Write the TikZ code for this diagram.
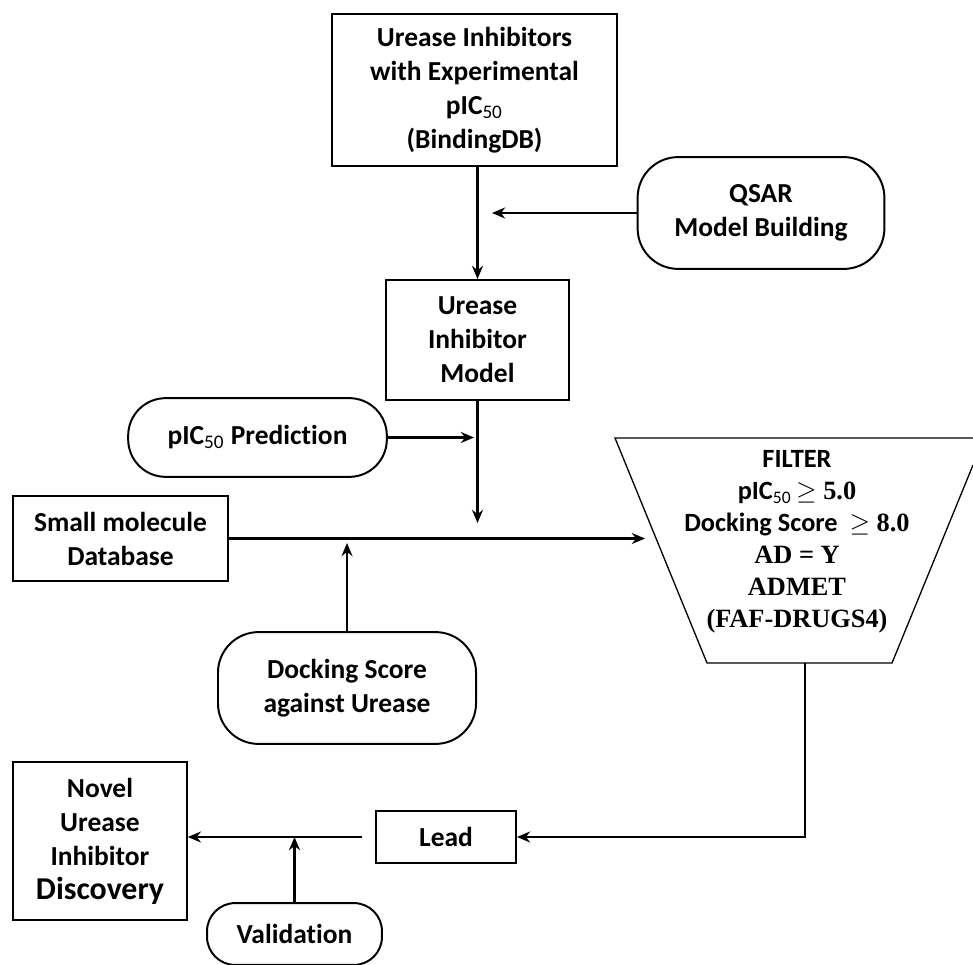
\documentclass[tikz,border=0pt]{standalone}
\usepackage{fontspec}
\setmainfont{Carlito}[Ligatures=NoCommon]
\newfontfamily\timesfont{Liberation Serif}
\usetikzlibrary{arrows.meta}

\begin{document}
\begin{tikzpicture}[>={Stealth[length=6pt,width=5pt]}, x=0.016cm, y=-0.016cm,
        box/.style={draw, line width=0.9pt, align=center, inner sep=0pt,
            font=\bfseries\fontsize{12.5}{15.5}\selectfont},
        term/.style={box, rounded corners=0.45cm},
        link/.style={->, line width=1.1pt}]
    \useasboundingbox (0,0) rectangle (973,965);
    \node[box, minimum width=4.56cm, minimum height=2.43cm] (data) at (474.5,90) {Urease Inhibitors\\with Experimental\\pIC\textsubscript{\mdseries 50}\\(BindingDB)};
    \node[term, rounded corners=0.65cm, minimum width=3.95cm, minimum height=1.79cm] (qsar) at (761,213) {QSAR\\Model Building};
    \node[box, minimum width=2.93cm, minimum height=1.92cm] (model) at (477.5,340) {Urease\\Inhibitor\\Model};
    \node[term, rounded corners=0.6cm, minimum width=4.14cm, minimum height=1.26cm] (pred) at (257.5,437.5) {pIC\textsubscript{\mdseries 50} Prediction};
    \node[box, minimum width=3.44cm, minimum height=1.36cm] (smdb) at (120.5,538.5) {Small molecule\\Database};
    \node[term, rounded corners=0.65cm, minimum width=4.13cm, minimum height=1.79cm] (dock) at (347,688) {Docking Score\\against Urease};
    \node[box, minimum width=2.24cm, minimum height=0.83cm] (lead) at (446,837) {Lead};
    \node[box, minimum width=2.78cm, minimum height=2.53cm] (novel) at (100,841) {Novel\\Urease\\Inhibitor\\{\fontsize{14.5}{18}\selectfont Discovery}};
    \node[term, minimum width=2.8cm, minimum height=0.99cm] (valid) at (294.5,934) {Validation};

    % filter funnel
    \draw[line width=0.6pt] (973,438) -- (615,438) -- (707,663) -- (892,663) -- (973,465);
    \node[align=center, font=\bfseries\fontsize{12}{14.6}\selectfont] (filt) at (797,541.5)
        {FILTER\\pIC\textsubscript{\mdseries 50}\,{\timesfont$\geq$ 5.0}\\Docking Score \ {\timesfont$\geq$ 8.0}\\{\timesfont AD = Y}\\{\timesfont ADMET}\\{\timesfont (FAF-DRUGS4)}};

    \coordinate (qin) at (492,213);
    \coordinate (mout) at (477.5,523);
    \coordinate (pin) at (474,437.5);
    \coordinate (fin) at (645,538.5);
    \coordinate (din) at (347,543);
    \coordinate (fout) at (805,663);
    \coordinate (lout) at (362,837);

    \draw[link] (data.south -| model.north) -- (model.north);
    \draw[link] (qsar.west) -- (qin);
    \draw[link] (model.south) -- (mout);
    \draw[link] (pred.east) -- (pin);
    \draw[link] (smdb.east) -- (fin);
    \draw[link] (dock.north) -- (din);
    \draw[link] (fout) |- (lead.east);
    \draw[link] (lout) -- (lout -| novel.east);
    \draw[link] (valid.north) -- (valid.north |- lout);
\end{tikzpicture}
\end{document}
